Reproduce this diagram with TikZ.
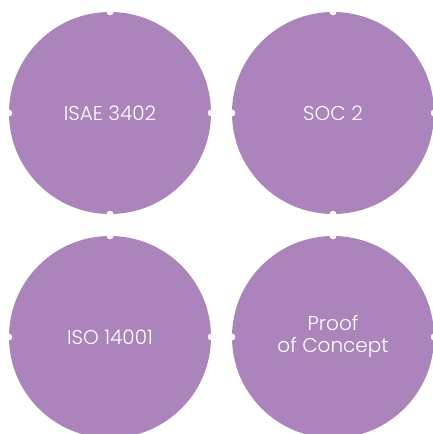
\documentclass[tikz,border=0pt]{standalone}
\usepackage{fontspec}
\setmainfont{Poppins Light}
\begin{document}
\begin{tikzpicture}[x=1pt,y=-1pt,
  disc/.style={circle,fill=discfill,minimum size=202pt,inner sep=0pt,
    text=white,font=\fontsize{20}{23}\selectfont,align=center},
  notch/.style={circle,fill=white,minimum size=7pt,inner sep=0pt}]
\definecolor{discfill}{HTML}{AA84BA}
\useasboundingbox (0,0) rectangle (433,434);
\clip (0,0) rectangle (433,434);
\fill[white] (0,0) rectangle (433,434);
\node[disc] (a) at (110,113) {ISAE 3402};
\node[disc] (b) at (333,113) {SOC 2};
\node[disc] (c) at (110,337) {ISO 14001};
\node[disc] (d) at (333,337) {Proof\\[-1pt]of Concept};
\foreach \n in {a,b,c,d}
  \foreach \s in {north,south,east,west}
    \node[notch] at (\n.\s) {};
\end{tikzpicture}
\end{document}
